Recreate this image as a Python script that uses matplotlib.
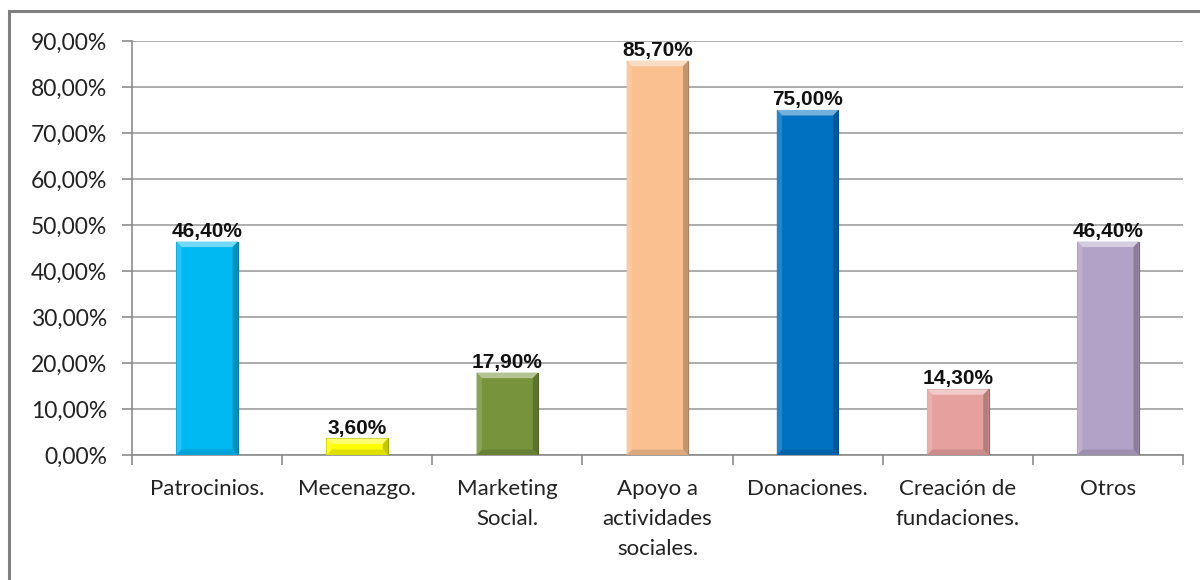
import matplotlib.pyplot as plt
from matplotlib.patches import Rectangle, Polygon
from matplotlib.colors import to_rgb
from matplotlib.ticker import FuncFormatter, FixedLocator
import numpy as np

categories = ["Patrocinios.", "Mecenazgo.", "Marketing\nSocial.", "Apoyo a\nactividades\nsociales.",
              "Donaciones.", "Creación de\nfundaciones.", "Otros"]
values = [46.4, 3.6, 17.9, 85.7, 75.0, 14.3, 46.4]
colors = ["#00B9F2", "#FFFF00", "#77933C", "#FAC090", "#0070C0", "#E6A09E", "#B3A2C7"]
y_ticks = [0, 10, 20, 30, 40, 50, 60, 70, 80, 90]


def shade(c, f):
    r = np.array(to_rgb(c))
    if f > 0:
        return tuple(r + (1 - r) * f)
    return tuple(r * (1 + f))


fig = plt.figure(figsize=(12, 5.8), dpi=100)
# marco exterior del gráfico
fig.patches.append(Rectangle((9 / 1200, -0.1), 1.2, 1.1 - 11 / 580, transform=fig.transFigure,
                             fill=False, edgecolor="#7F7F7F", linewidth=2.2))
ax = fig.add_axes([132 / 1200, 1 - 455 / 580, (1183 - 132) / 1200, (455 - 41) / 580])

x = np.arange(len(categories))
w = 0.41
bars = ax.bar(x, values, width=w, color=colors, edgecolor=[shade(c, -0.35) for c in colors],
              linewidth=0.8, zorder=3)

# bisel de las barras
dx = 0.035
dy = 1.2
for b, c in zip(bars, colors):
    x0, x1 = b.get_x(), b.get_x() + b.get_width()
    h = b.get_height()
    d = min(dy, h / 3)
    ax.add_patch(Polygon([(x0, h), (x1, h), (x1 - dx, h - d), (x0 + dx, h - d)],
                         closed=True, facecolor=shade(c, 0.45), edgecolor="none", zorder=4))
    ax.add_patch(Polygon([(x0, 0), (x1, 0), (x1 - dx, d), (x0 + dx, d)],
                         closed=True, facecolor=shade(c, -0.12), edgecolor="none", zorder=4))
    ax.add_patch(Polygon([(x0, 0), (x0, h), (x0 + dx, h - d), (x0 + dx, d)],
                         closed=True, facecolor=shade(c, 0.15), edgecolor="none", zorder=4))
    ax.add_patch(Polygon([(x1, 0), (x1, h), (x1 - dx, h - d), (x1 - dx, d)],
                         closed=True, facecolor=shade(c, -0.22), edgecolor="none", zorder=4))
    ax.text(b.get_x() + b.get_width() / 2, h + 0.2, f"{h:.2f}%".replace(".", ","),
            ha="center", va="bottom", fontsize=15, fontweight="bold",
            family="Liberation Sans", color="#111111", zorder=5)

ax.set_xlim(-0.5, len(categories) - 0.5)
ax.set_ylim(0, 90)
ax.yaxis.set_major_locator(FixedLocator(y_ticks))
ax.yaxis.set_major_formatter(FuncFormatter(lambda v, p: f"{v:.2f}%".replace(".", ",")))
ax.grid(axis="y", color="#A6A6A6", linewidth=1.3, zorder=0)
ax.set_axisbelow(True)

ax.set_xticks(x)
ax.set_xticklabels(categories, fontsize=16, family="Lato", color="#222222", linespacing=1.65,
                   va="top")
ax.tick_params(axis="x", length=0, pad=17)
ax.set_xticks(np.arange(len(categories) + 1) - 0.5, minor=True)
ax.tick_params(axis="x", which="minor", length=7, color="#8C8C8C", width=1.2)
ax.tick_params(axis="y", length=7, color="#8C8C8C", width=1.2, labelsize=16.5, pad=11,
               labelcolor="#222222")
for lbl in ax.get_yticklabels():
    lbl.set_family("Lato")

for s in ["top", "right"]:
    ax.spines[s].set_visible(False)
for s in ["left", "bottom"]:
    ax.spines[s].set_color("#8C8C8C")
    ax.spines[s].set_linewidth(1.2)

fig.savefig("out.png", dpi=100)
